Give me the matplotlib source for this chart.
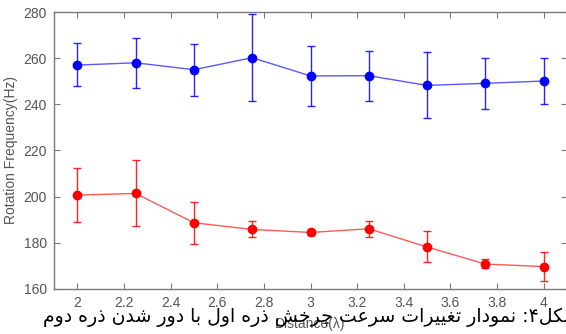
import matplotlib
matplotlib.use("Agg")
import matplotlib.pyplot as plt
import numpy as np

# ---- data ----
distance = [2.0, 2.25, 2.5, 2.75, 3.0, 3.25, 3.5, 3.75, 4.0]
blue_mean = [257.0, 258.0, 255.0, 260.2, 252.3, 252.4, 248.2, 249.1, 250.1]
blue_low = [247.9, 247.2, 243.6, 241.3, 239.1, 241.3, 233.9, 237.8, 240.0]
blue_high = [266.4, 268.9, 266.1, 279.0, 265.4, 263.2, 262.7, 260.1, 260.1]
red_mean = [200.7, 201.4, 188.7, 185.8, 184.5, 186.1, 178.2, 170.8, 169.7]
red_low = [189.0, 187.1, 179.6, 182.4, 183.5, 182.4, 171.9, 169.0, 163.6]
red_high = [212.3, 215.9, 197.8, 189.3, 185.5, 189.6, 185.0, 173.0, 176.0]
xticks = [2.0, 2.2, 2.4, 2.6, 2.8, 3.0, 3.2, 3.4, 3.6, 3.8, 4.0]
xtick_labels = ["2", "2.2", "2.4", "2.6", "2.8", "3", "3.2", "3.4", "3.6", "3.8", "4"]
yticks = [160, 180, 200, 220, 240, 260, 280]
ylabel = "Rotation Frequency(Hz)"
xlabel = "Distance(\u03bb)"
caption = "شکل۴: نمودار تغییرات سرعت چرخش ذره اول با دور شدن ذره دوم"

# ---- simple Arabic/Persian shaping (presentation forms) for display ----
FORMS = {
    'ا': ('\uFE8D', '\uFE8E', None, None),
    'ب': ('\uFE8F', '\uFE90', '\uFE91', '\uFE92'),
    'ت': ('\uFE95', '\uFE96', '\uFE97', '\uFE98'),
    'خ': ('\uFEA5', '\uFEA6', '\uFEA7', '\uFEA8'),
    'د': ('\uFEA9', '\uFEAA', None, None),
    'ذ': ('\uFEAB', '\uFEAC', None, None),
    'ر': ('\uFEAD', '\uFEAE', None, None),
    'س': ('\uFEB1', '\uFEB2', '\uFEB3', '\uFEB4'),
    'ش': ('\uFEB5', '\uFEB6', '\uFEB7', '\uFEB8'),
    'ع': ('\uFEC9', '\uFECA', '\uFECB', '\uFECC'),
    'غ': ('\uFECD', '\uFECE', '\uFECF', '\uFED0'),
    'ل': ('\uFEDD', '\uFEDE', '\uFEDF', '\uFEE0'),
    'م': ('\uFEE1', '\uFEE2', '\uFEE3', '\uFEE4'),
    'ن': ('\uFEE5', '\uFEE6', '\uFEE7', '\uFEE8'),
    'ه': ('\uFEE9', '\uFEEA', '\uFEEB', '\uFEEC'),
    'و': ('\uFEED', '\uFEEE', None, None),
    'چ': ('\uFB7A', '\uFB7B', '\uFB7C', '\uFB7D'),
    'ک': ('\uFB8E', '\uFB8F', '\uFB90', '\uFB91'),
    'ی': ('\uFBFC', '\uFBFD', '\uFBFE', '\uFBFF'),
}


def shape(text):
    out = []
    n = len(text)
    for i, ch in enumerate(text):
        if ch not in FORMS:
            out.append(ch)
            continue
        prev = text[i - 1] if i > 0 else None
        nxt = text[i + 1] if i < n - 1 else None
        jp = prev in FORMS and FORMS[prev][2] is not None
        jn = FORMS[ch][2] is not None and nxt in FORMS
        iso, fin, ini, med = FORMS[ch]
        if jp and jn:
            out.append(med)
        elif jp:
            out.append(fin)
        elif jn:
            out.append(ini)
        else:
            out.append(iso)
    return "".join(out)[::-1]


plt.rcParams['font.family'] = ['Liberation Sans', 'DejaVu Sans']

fig = plt.figure(figsize=(5.66, 3.34), dpi=100)
ax = fig.add_axes([54 / 566, 1 - 289 / 334, (567 - 54) / 566, (289 - 12) / 334])

blue = '#0000ff'
red = '#ff0000'
bm = np.array(blue_mean)
rm = np.array(red_mean)
for mean, lo, hi, c in [(bm, blue_low, blue_high, blue), (rm, red_low, red_high, red)]:
    ax.errorbar(distance, mean,
                yerr=[mean - np.array(lo), np.array(hi) - mean],
                fmt='none', ecolor=c, elinewidth=1.0, capsize=3.2, capthick=1.0,
                alpha=0.85)
    ax.plot(distance, mean, color=c, lw=1.0, alpha=0.65)
    ax.plot(distance, mean, ls='none', marker='o', ms=6, mfc=c, mec=c)

ax.set_xlim(1.9, 4.1)
ax.set_ylim(160, 280)
ax.set_xticks(xticks)
ax.set_xticklabels(xtick_labels)
ax.set_yticks(yticks)

gray = '#555555'
for s in ax.spines.values():
    s.set_color('#7a7a7a')
    s.set_linewidth(1.0)
ax.tick_params(direction='in', length=4, width=0.8, colors='#7a7a7a',
               labelcolor=gray, labelsize=10, top=True, right=True, pad=5)
ax.set_ylabel(ylabel, color=gray, fontsize=10, labelpad=4)
ax.set_xlabel(xlabel, color=gray, fontsize=10, labelpad=5)

fig.text(43 / 566, 1 - 322 / 334, shape(caption), ha='left', va='baseline',
         fontsize=13.6, color='black', family=['DejaVu Sans'])

fig.savefig('out.png', dpi=100)
